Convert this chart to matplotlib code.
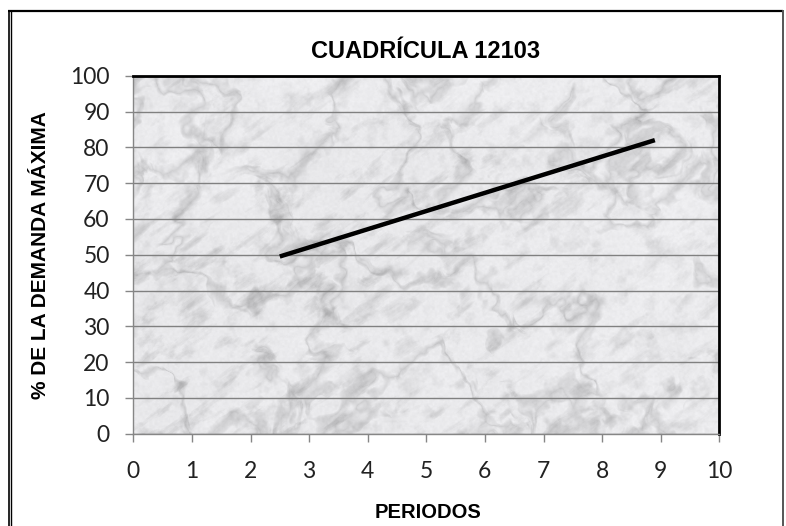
import numpy as np
import matplotlib
matplotlib.use("Agg")
import matplotlib.pyplot as plt
from matplotlib.lines import Line2D

# Data
periodos = [2.5, 8.9]
demanda = [49.5, 82.0]
x_ticks = list(range(0, 11))
y_ticks = list(range(0, 101, 10))
titulo = "CUADRÍCULA 12103"
x_label = "PERIODOS"
y_label = "% DE LA DEMANDA MÁXIMA"


def lattice_noise(u, v, grid):
    n = grid.shape[0]
    iu = np.floor(u).astype(int)
    iv = np.floor(v).astype(int)
    fu = u - iu
    fv = v - iv
    fu = fu * fu * (3 - 2 * fu)
    fv = fv * fv * (3 - 2 * fv)
    i0, i1 = iu % n, (iu + 1) % n
    j0, j1 = iv % n, (iv + 1) % n
    a = grid[j0, i0]
    b = grid[j0, i1]
    c = grid[j1, i0]
    d = grid[j1, i1]
    top = a + (b - a) * fu
    bot = c + (d - c) * fu
    return top + (bot - top) * fv


def fbm(u, v, rng, octaves=5):
    out = np.zeros_like(u)
    amp, tot, f = 1.0, 0.0, 1.0
    for _ in range(octaves):
        grid = rng.random((128, 128))
        out += amp * lattice_noise(u * f, v * f, grid)
        tot += amp
        amp *= 0.5
        f *= 2.0
    return out / tot


def marble_texture(h, w, seed=11):
    rng = np.random.default_rng(seed)
    yy, xx = np.mgrid[0:h, 0:w].astype(float)
    # soft diagonal streaks towards the upper right
    ang = np.deg2rad(35)
    u = (xx * np.cos(ang) - yy * np.sin(ang))
    v = (xx * np.sin(ang) + yy * np.cos(ang))
    warp = fbm(xx / 60, yy / 60, rng, 4)
    streak = fbm(u / 28 + 2 * warp, v / 10, rng, 5)
    streak_dark = np.clip((streak - 0.55) * 3.0, 0, 1)
    # faint crack network from ridged noise
    r = fbm(xx / 70 + 1.5 * warp, yy / 70 - 1.5 * warp, rng, 5)
    ridge = 1 - np.abs(2 * r - 1)
    cracks = np.clip((ridge - 0.88) * 6.0, 0, 1)
    # mottled patches
    mott = fbm(xx / 14, yy / 14, rng, 4)
    mott_dark = np.clip((mott - 0.55) * 2.5, 0, 1)
    cloud = fbm(xx / 90, yy / 90, rng, 3)
    speck = fbm(xx / 2.5, yy / 2.5, rng, 2)
    shade = 0.95 - 0.04 * cloud
    shade -= 0.13 * streak_dark * (0.3 + cloud)
    shade -= 0.15 * cracks
    shade -= 0.08 * mott_dark
    shade -= 0.04 * (speck - 0.5)
    shade = np.clip(shade, 0.60, 0.97)
    rgb = np.stack([shade * 0.99, shade * 0.99, shade * 1.0], axis=-1)
    return np.clip(rgb, 0, 1)


fig = plt.figure(figsize=(7.86, 5.26), dpi=100)
fig.patch.set_facecolor("white")
ax = fig.add_axes([133.3 / 786, (526 - 433.7) / 526,
                   (719.3 - 133.3) / 786, (433.7 - 75.7) / 526])

tex = marble_texture(358, 586)
ax.imshow(tex, extent=(0, 10, 0, 100), aspect="auto", zorder=0,
          interpolation="bilinear")

ax.set_xlim(0, 10)
ax.set_ylim(0, 100)
ax.set_xticks(x_ticks)
ax.set_yticks(y_ticks)
ax.yaxis.grid(True, color="#808080", linewidth=1.0, zorder=1)
ax.xaxis.grid(False)

ax.plot(periodos, demanda, color="black", linewidth=3.2,
        solid_capstyle="butt", zorder=3)

for side in ("top", "right"):
    ax.spines[side].set_color("black")
    ax.spines[side].set_linewidth(2.0)
for side in ("left", "bottom"):
    ax.spines[side].set_color("#868686")
    ax.spines[side].set_linewidth(1.0)

ax.tick_params(axis="y", direction="out", length=6, width=1,
               color="#868686", pad=11)
ax.tick_params(axis="x", direction="out", length=6, width=1,
               color="#868686", pad=14)
for lab in ax.get_xticklabels() + ax.get_yticklabels():
    lab.set_fontfamily(["Lato", "DejaVu Sans"])
    lab.set_fontweight("normal")
    lab.set_fontsize(16.5)
    lab.set_color("#222222")

fig.text(426 / 786, 1 - 52 / 526, titulo, ha="center", va="center",
         fontsize=17, fontweight="bold", family=["Liberation Sans", "DejaVu Sans"])
fig.text(428 / 786, 1 - 512 / 526, x_label, ha="center", va="center",
         fontsize=14.5, fontweight="bold", family=["Liberation Sans", "DejaVu Sans"])
fig.text(41 / 786, 1 - 255 / 526, y_label, ha="center", va="center",
         rotation=90, fontsize=15, fontweight="bold",
         family=["Liberation Sans", "DejaVu Sans"])

# Outer chart frame
W, H = 786, 526
def fl(x0, y0, x1, y1, lw, color):
    fig.add_artist(Line2D([x0 / W, x1 / W], [1 - y0 / H, 1 - y1 / H],
                          transform=fig.transFigure, color=color,
                          linewidth=lw, solid_capstyle="butt"))

fl(8.5, 10, 8.5, 526, 1.2, "black")
fl(11, 10, 11, 526, 1.0, "black")
fl(8, 10.7, 783, 10.7, 1.6, "black")
fl(782.5, 10, 782.5, 526, 1.4, "#555555")

fig.savefig("out.png", dpi=100, facecolor="white")
